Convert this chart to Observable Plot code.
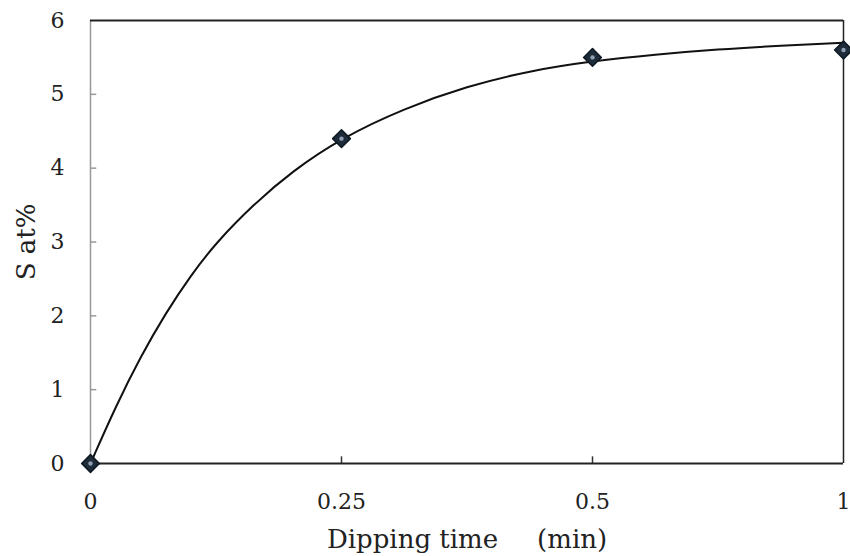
<!DOCTYPE html>
<html>
<head>
<meta charset="utf-8">
<script src="https://cdn.jsdelivr.net/npm/d3@7"></script>
<script src="https://cdn.jsdelivr.net/npm/@observablehq/plot@0.6"></script>
<style>
  html, body { margin: 0; padding: 0; background: #fff; }
  svg text { white-space: pre; }
</style>
</head>
<body>
<div id="chart"></div>
<script>
// Categories on the x axis (equally spaced)
const categories = ["0", "0.25", "0.5", "1"];
// Measured S at% values
const sValues = [0, 4.4, 5.5, 5.6];
// Trend curve (position in category units, value)
const curvePos = [0, 0.1, 0.2, 0.3, 0.4, 0.5, 0.65, 0.8, 1.0, 1.25, 1.5, 1.75, 2.0, 2.25, 2.5, 2.75, 3.0];
const curveVal = [0, 0.77, 1.45, 2.04, 2.55, 2.99, 3.51, 3.95, 4.41, 4.81, 5.11, 5.32, 5.45, 5.54, 5.61, 5.66, 5.70];
const yTicks = [0, 1, 2, 3, 4, 5, 6];

const points = categories.map((c, i) => ({i, c, v: sValues[i]}));
const curve = curvePos.map((p, k) => ({p, v: curveVal[k]}));
const catIdx = categories.map((_, i) => i);

const font = "'DejaVu Serif', serif";

const chart = Plot.plot({
  width: 850,
  height: 556,
  marginTop: 20,
  marginLeft: 90,
  marginRight: 7,
  marginBottom: 93,
  style: {fontFamily: font, fontSize: "22px", color: "#222", background: "#fff", overflow: "visible"},
  x: {domain: [0, 3]},
  y: {domain: [0, 6]},
  marks: [
    // axes
    Plot.axisY(yTicks, {tickSize: 0, tickPadding: 26, fontSize: 22, label: null, tickFormat: d => String(d)}),
    Plot.axisY({ticks: [], tickSize: 0, label: "S at%", labelAnchor: "center", labelArrow: "none", labelOffset: 74, fontSize: 26}),
    Plot.axisX(catIdx, {tickSize: 0, tickPadding: 30, fontSize: 22, label: null, tickFormat: i => categories[i]}),
    Plot.axisX({ticks: [], tickSize: 0, label: "Dipping time\u3000\u2002(min)", labelAnchor: "center", labelArrow: "none", labelOffset: 84, fontSize: 26}),
    // inward tick marks
    Plot.ruleY(yTicks.slice(1, -1), {x1: 0, x2: 0.025, stroke: "#999", strokeWidth: 1.5}),
    Plot.ruleX(catIdx.slice(1, -1), {y1: 0, y2: 0.09, stroke: "#333", strokeWidth: 1.5}),
    // frame
    Plot.ruleX([0], {stroke: "#999", strokeWidth: 1.5}),
    Plot.ruleX([3], {stroke: "#222", strokeWidth: 1.5}),
    Plot.ruleY([0, 6], {stroke: "#222", strokeWidth: 2}),
    // trend curve
    Plot.line(curve, {x: "p", y: "v", curve: "basis", stroke: "#111", strokeWidth: 2}),
    // markers
    Plot.dot(points, {x: "i", y: "v", symbol: "diamond2", r: 8, fill: "#1e2c3a", stroke: "#0e1822", strokeWidth: 1.5, strokeLinejoin: "round"}),
    Plot.dot(points, {x: "i", y: "v", r: 2.2, fill: "#8fa0b2"})
  ]
});
document.getElementById("chart").appendChild(chart);
</script>
</body>
</html>
